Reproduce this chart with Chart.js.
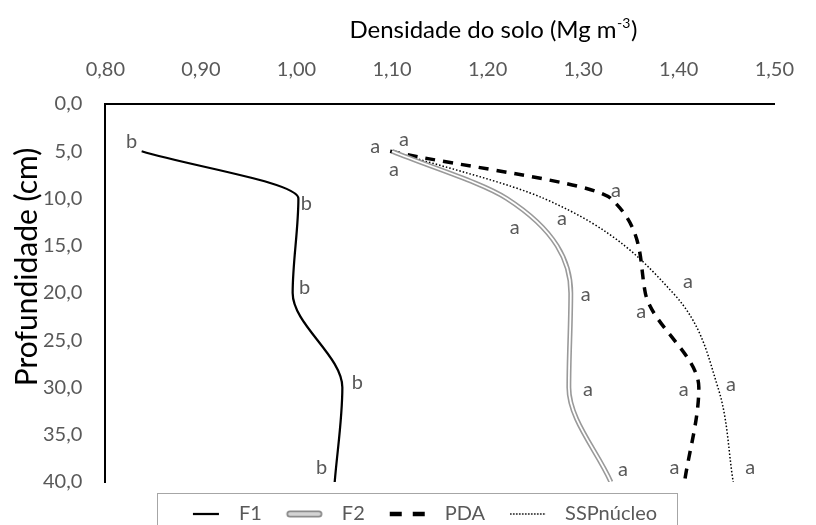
<!DOCTYPE html>
<html>
<head>
<meta charset="utf-8">
<script src="https://cdn.jsdelivr.net/npm/chart.js@4"></script>
<style>
	html, body { margin: 0; padding: 0; background: #fff; }
	#chart-holder { width: 816px; height: 525px; }
</style>
</head>
<body>
<div id="chart-holder"><canvas id="c-density" width="816" height="525"></canvas></div>
<script>
// depth of each sample (cm)
let depths = [5, 10, 20, 30, 40];

// soil bulk density per system (Mg m-3)
let f1Density = [0.838, 1.002, 0.996, 1.048, 1.040];
let f2Density = [1.100, 1.220, 1.287, 1.285, 1.329];
let pdaDensity = [1.098, 1.329, 1.365, 1.421, 1.406];
let sspDensity = [1.100, 1.259, 1.394, 1.441, 1.457];

// letters of the mean comparison test
let f1Letters = ["b", "b", "b", "b", "b"];
let f2Letters = ["a", "a", "a", "a", "a"];
let pdaLetters = ["a", "a", "a", "a", "a"];
let sspLetters = ["a", "a", "a", "a", "a"];

// axis ticks
let densityTicks = [0.80, 0.90, 1.00, 1.10, 1.20, 1.30, 1.40, 1.50];
let depthTicks = [0, 5, 10, 15, 20, 25, 30, 35, 40];


// where each letter sits relative to its point (px)
let letterOffsets = {
	F1: [[-10, -10], [8, 5], [12, -5], [15, -5], [-13, -14]],
	F2: [[2, 18], [8, 29], [15, 2], [19, 2], [12, -12]],
	PDA: [[-15, -5], [5, -8], [-4, 19], [-15, 2], [-10, -14]],
	SSP: [[12, -12], [18, 20], [15, -11], [13, -3], [17, -14]]
};


function toPoints(values) {
	return values.map((v, i) => ({ x: v, y: depths[i] }));
}


function makeSwatch(draw) {
	let cv = document.createElement("canvas");
	cv.width = 48;
	cv.height = 14;
	let c = cv.getContext("2d");
	draw(c);
	return cv;
}

let swatchF1 = makeSwatch(c => {
	c.strokeStyle = "#000";
	c.lineWidth = 2.25;
	c.beginPath(); c.moveTo(12, 7); c.lineTo(38, 7); c.stroke();
});

let swatchF2 = makeSwatch(c => {
	c.lineCap = "round";
	c.strokeStyle = "#8c8c8c";
	c.lineWidth = 7;
	c.beginPath(); c.moveTo(6, 7); c.lineTo(35, 7); c.stroke();
	c.strokeStyle = "#d4d4d4";
	c.lineWidth = 3.5;
	c.beginPath(); c.moveTo(6, 7); c.lineTo(35, 7); c.stroke();
});

let swatchPDA = makeSwatch(c => {
	c.strokeStyle = "#000";
	c.lineWidth = 4.5;
	c.beginPath(); c.moveTo(3, 7); c.lineTo(15, 7); c.moveTo(26, 7); c.lineTo(38, 7); c.stroke();
});

let swatchSSP = makeSwatch(c => {
	c.strokeStyle = "#000";
	c.lineWidth = 1.5;
	c.setLineDash([1.5, 1.5]);
	c.beginPath(); c.moveTo(3, 7); c.lineTo(38, 7); c.stroke();
});


const letterLabels = {
	id: "letterLabels",
	afterDatasetsDraw(chart) {
		let ctx = chart.ctx;
		ctx.save();
		ctx.font = "20px Lato, 'Open Sans', sans-serif";
		ctx.fillStyle = "#595959";
		ctx.textAlign = "center";
		ctx.textBaseline = "middle";
		chart.data.datasets.forEach((ds, i) => {
			if (!ds.letters) return;
			let meta = chart.getDatasetMeta(i);
			meta.data.forEach((pt, j) => {
				let off = letterOffsets[ds.label][j];
				ctx.fillText(ds.letters[j], pt.x + off[0], pt.y + off[1]);
			});
		});
		ctx.restore();
	}
};


// axis titles, placed off-centre like the original
const axisTitles = {
	id: "axisTitles",
	afterDraw(chart) {
		let a = chart.chartArea;
		let ctx = chart.ctx;
		ctx.save();
		ctx.fillStyle = "#000";
		ctx.textBaseline = "middle";
		ctx.textAlign = "left";

		let mainFont = "24px Lato, 'Open Sans', sans-serif";
		let supFont = "14px Lato, 'Open Sans', sans-serif";
		let part1 = "Densidade do solo (Mg m";
		let sup = "-3";
		let part2 = ")";
		ctx.font = mainFont;
		let w1 = ctx.measureText(part1).width;
		let w3 = ctx.measureText(part2).width;
		ctx.font = supFont;
		let w2 = ctx.measureText(sup).width + 1;
		let x0 = a.left + 388 - (w1 + w2 + w3) / 2;
		ctx.font = mainFont;
		ctx.fillText(part1, x0, 30);
		ctx.font = supFont;
		ctx.fillText(sup, x0 + w1 + 0.5, 23);
		ctx.font = mainFont;
		ctx.fillText(part2, x0 + w1 + w2, 30);

		ctx.translate(27, a.top + 163);
		ctx.rotate(-Math.PI / 2);
		ctx.textAlign = "center";
		ctx.font = "30px Lato, 'Open Sans', sans-serif";
		ctx.fillText("Profundidade (cm)", 0, 0);
		ctx.restore();
	}
};


const legendFrame = {
	id: "legendFrame",
	afterLayout(chart) {
		chart.legend.left += 14;
		chart.legend.right += 14;
	},
	afterDraw(chart) {
		let lg = chart.legend;
		let pad = lg.options.labels.padding;
		let rowW = lg.lineWidths[0];
		let start = (lg.left + pad + lg.right - rowW) / 2;
		let end = start + rowW - pad;
		let ctx = chart.ctx;
		ctx.save();
		ctx.strokeStyle = "#a6a6a6";
		ctx.lineWidth = 1;
		ctx.strokeRect(Math.round(start - 24) + 0.5, Math.round(lg.top + 11) + 0.5, Math.round(end - start + 44), 80);
		ctx.restore();
	}
};


Chart.defaults.font.family = "Lato, 'Open Sans', sans-serif";

let densityChart = new Chart(document.getElementById("c-density"), {
	type: "scatter",
	data: {
		datasets: [
			{
				label: "F1",
				data: toPoints(f1Density),
				letters: f1Letters,
				showLine: true,
				borderColor: "#000",
				borderWidth: 2.25,
				pointRadius: 0,
				pointStyle: swatchF1
			},
			{
				label: "F2-inner",
				inner: true,
				data: toPoints(f2Density),
				showLine: true,
				borderColor: "#fff",
				borderWidth: 1.8,
				pointRadius: 0
			},
			{
				label: "F2",
				data: toPoints(f2Density),
				letters: f2Letters,
				showLine: true,
				borderColor: "#9a9a9a",
				borderWidth: 5,
				pointRadius: 0,
				pointStyle: swatchF2
			},
			{
				label: "PDA",
				data: toPoints(pdaDensity),
				letters: pdaLetters,
				showLine: true,
				borderColor: "#000",
				borderWidth: 3.5,
				borderDash: [10, 8],
				pointRadius: 0,
				pointStyle: swatchPDA
			},
			{
				label: "SSP",
				text: "SSPnúcleo",
				data: toPoints(sspDensity),
				letters: sspLetters,
				showLine: true,
				borderColor: "#000",
				borderWidth: 1.5,
				borderDash: [1.5, 2],
				pointRadius: 0,
				pointStyle: swatchSSP
			}
		]
	},
	options: {
		responsive: false,
		animation: false,
		indexAxis: "y",
		elements: {
			line: { cubicInterpolationMode: "monotone" }
		},
		layout: {
			padding: { left: 20, right: 26, top: 36, bottom: -9 }
		},
		scales: {
			x: {
				type: "linear",
				position: "top",
				min: 0.8,
				max: 1.5,
				afterBuildTicks: scale => { scale.ticks = densityTicks.map(v => ({ value: v })); },
				ticks: {
					color: "#595959",
					font: { size: 20 },
					padding: 22,
					callback: v => v.toFixed(2).replace(".", ",")
				},
				grid: { display: false, drawTicks: false },
				border: { display: true, color: "#000", width: 2 }
			},
			y: {
				type: "linear",
				position: "left",
				reverse: true,
				min: 0,
				max: 40,
				afterBuildTicks: scale => { scale.ticks = depthTicks.map(v => ({ value: v })); },
				ticks: {
					color: "#595959",
					font: { size: 20 },
					padding: 23,
					callback: v => v.toFixed(1).replace(".", ",")
				},
				grid: { display: false, drawTicks: false },
				border: { display: true, color: "#000", width: 2 }
			}
		},
		plugins: {
			tooltip: { enabled: false },
			legend: {
				position: "bottom",
				labels: {
					usePointStyle: true,
					pointStyleWidth: 48,
					padding: 22,
					color: "#595959",
					font: { size: 20 },
					filter: (item, data) => !data.datasets[item.datasetIndex].inner,
					generateLabels: chart => {
						let items = Chart.defaults.plugins.legend.labels.generateLabels(chart);
						items.forEach(it => {
							let ds = chart.data.datasets[it.datasetIndex];
							if (ds.text) it.text = ds.text;
						});
						return items;
					}
				}
			}
		}
	},
	plugins: [letterLabels, axisTitles, legendFrame]
});
</script>
</body>
</html>
